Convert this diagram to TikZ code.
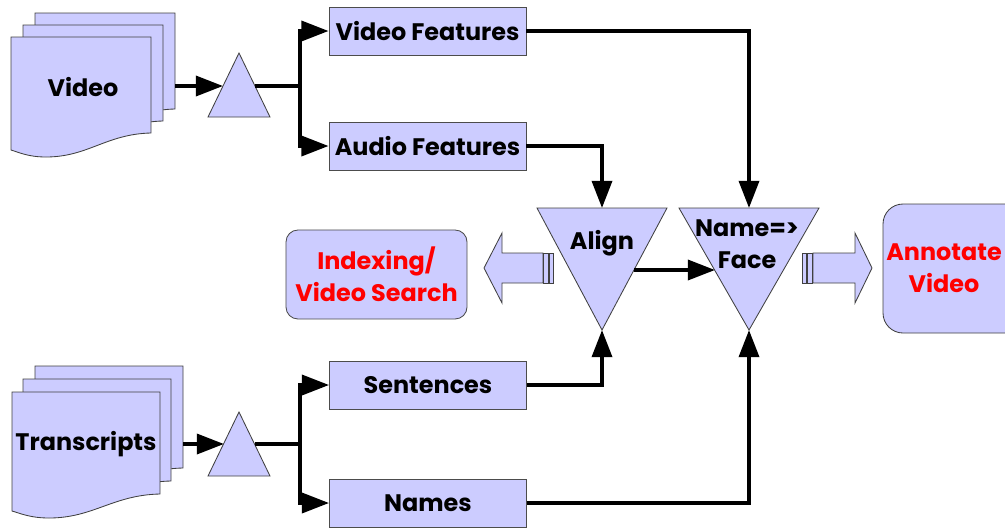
\documentclass[tikz,border=0pt]{standalone}
\usepackage{fontspec}
\setmainfont{Poppins}
\usetikzlibrary{positioning, shapes.geometric, arrows.meta}
\definecolor{lilac}{HTML}{CCCCFF}
\tikzstyle{feature} = [rectangle, minimum width=4.925cm, minimum height=1.2cm, text centered, draw=black!70, fill=lilac, line width=0.6pt, font=\bfseries\fontsize{17}{20}\selectfont]
\tikzstyle{result} = [rectangle, rounded corners=0.3cm, align=center, draw=black!70, fill=lilac, line width=0.6pt, text=red, font=\bfseries\fontsize{17}{23}\selectfont]
\tikzstyle{tag} = [align=center, font=\bfseries\fontsize{17}{23}\selectfont]
\tikzstyle{sheet} = [draw=black!75, fill=lilac, line width=0.6pt]
\tikzstyle{wire} = [line width=2.6pt]
\tikzstyle{arrow} = [line width=2.6pt, -{Triangle[length=0.68cm, width=0.5cm]}]

\begin{document}
\begin{tikzpicture}[x=0.025cm, y=-0.025cm]
\useasboundingbox (0,0) rectangle (1005,528);

% stacks of pages
\foreach \px/\py/\pw/\ph in {35/13/140/96, 23/25/140/96, 11/37/140/96, 35/366/148/102, 23/379/148/102, 12/392/148/102}
  \filldraw[sheet] (\px,\py) -- ({\px+\pw},\py) -- ({\px+\pw},{\py+\ph})
    .. controls ({\px+0.68*\pw},{\py+\ph+1}) and ({\px+0.55*\pw},{\py+\ph+24}) .. ({\px+0.25*\pw},{\py+\ph+24})
    .. controls ({\px+0.12*\pw},{\py+\ph+24}) and ({\px+0.05*\pw},{\py+\ph+19}) .. (\px,{\py+\ph+17}) -- cycle;
\node (video) [tag] at (83,87) {Video};
\node (transcripts) [tag] at (86,444) {Transcripts};
\coordinate (videoout) at (175,86);
\coordinate (textout) at (183,444);

% splitters
\filldraw[sheet] (208,117) -- (239,53) -- (270,117) -- cycle;
\filldraw[sheet] (208,476) -- (239,412) -- (270,476) -- cycle;
\coordinate (vsplitin) at (223,86);
\coordinate (vsplitout) at (255,86);
\coordinate (vfork) at (300,86);
\coordinate (tsplitin) at (224,444);
\coordinate (tsplitout) at (255,444);
\coordinate (tfork) at (300,444);

% features
\node (vfeat) [feature] at (427.5,31) {Video Features};
\node (afeat) [feature] at (427.5,146) {Audio Features};
\node (sentences) [feature] at (428,385) {Sentences};
\node (names) [feature] at (428,503) {Names};

% matching steps
\filldraw[sheet] (537,208) -- (667,208) -- (602,330) -- cycle;
\filldraw[sheet] (679,208) -- (819,208) -- (749,330) -- cycle;
\node (align) [tag] at (602,243) {Align};
\node (nameface) [tag] at (747,244) {Name=>\\Face};
\coordinate (aligntop) at (602,208);
\coordinate (alignbot) at (602,330);
\coordinate (alignout) at (634,270);
\coordinate (facetop) at (749,208);
\coordinate (facebot) at (749,330);
\coordinate (facein) at (715,270);

% results
\node (index) [result, minimum width=4.525cm, minimum height=2.225cm] at (376.5,274.5) {Indexing/\\Video Search};
\filldraw[sheet, rounded corners=0.5cm] (883,204) rectangle (1045,333);
\node (annotate) [tag, text=red] at (944,268) {Annotate\\Video};

% block arrows
\filldraw[sheet] (543,253) -- (502,253) -- (502,233) -- (484,268) -- (502,303) -- (502,283) -- (543,283) -- cycle;
\filldraw[sheet] (543,253) rectangle (548,283);
\filldraw[sheet] (549,253) rectangle (553,283);
\filldraw[sheet] (802,253) rectangle (806,283);
\filldraw[sheet] (807,253) rectangle (812,283);
\filldraw[sheet] (813,253) -- (855,253) -- (855,233) -- (872,268) -- (855,303) -- (855,283) -- (813,283) -- cycle;

% connectors
\draw [arrow] (videoout) -- (vsplitin);
\draw [wire] (vsplitout) -- (vfork);
\draw [arrow] (vfork) |- (vfeat);
\draw [arrow] (vfork) |- (afeat);
\draw [arrow] (textout) -- (tsplitin);
\draw [wire] (tsplitout) -- (tfork);
\draw [arrow] (tfork) |- (sentences);
\draw [arrow] (tfork) |- (names);
\draw [arrow] (afeat) -| (aligntop);
\draw [arrow] (vfeat) -| (facetop);
\draw [arrow] (sentences) -| (alignbot);
\draw [arrow] (names) -| (facebot);
\draw [arrow] (alignout) -- (facein);

\end{tikzpicture}
\end{document}
